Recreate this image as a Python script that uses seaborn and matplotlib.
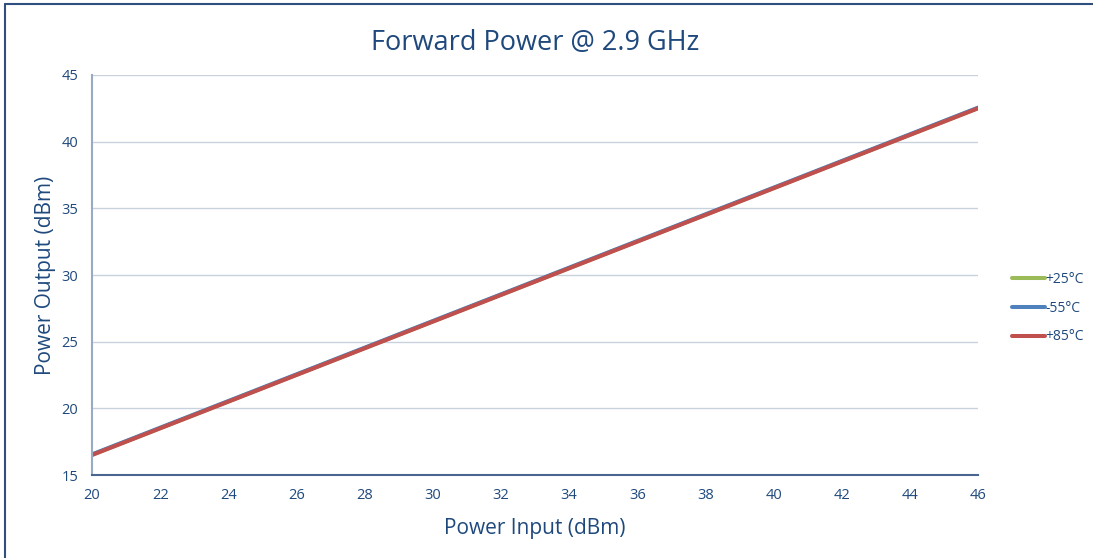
import pandas as pd
import seaborn as sns
import matplotlib.pyplot as plt
from matplotlib import lines

# ====================
# Data
# ====================

power_in = [20, 22, 24, 26, 28, 30, 32, 34, 36, 38, 40, 42, 44, 46]
out_p25 = [16.52, 18.52, 20.52, 22.52, 24.52, 26.52, 28.52, 30.52, 32.52, 34.52, 36.52, 38.52, 40.52, 42.52]
out_m55 = [16.55, 18.55, 20.55, 22.55, 24.55, 26.55, 28.55, 30.55, 32.55, 34.55, 36.55, 38.55, 40.55, 42.55]
out_p85 = [16.5, 18.5, 20.5, 22.5, 24.5, 26.5, 28.5, 30.5, 32.5, 34.5, 36.5, 38.5, 40.5, 42.5]
temps = ['+25°C', '-55°C', '+85°C']
colors = ['#9BBB59', '#4F81BD', '#C0504D']

df = pd.concat([
    pd.DataFrame({'pin': power_in, 'pout': vals, 'temp': t})
    for t, vals in zip(temps, [out_p25, out_m55, out_p85])
])

# ====================
# Plotting
# ====================

sns.set_style('white')
plt.rcParams['font.family'] = ['Open Sans', 'DejaVu Sans']
txt = '#1F497D'

fig = plt.figure(figsize=(10.93, 5.58), dpi=100)
ax = fig.add_axes([0.0842, 0.1487, 0.8106, 0.7169])

sns.lineplot(data=df, x='pin', y='pout', hue='temp', hue_order=temps,
             palette=colors, linewidth=2.9, ax=ax)

ax.set_xlim(20, 46)
ax.set_ylim(15, 45)
ax.set_xticks(range(20, 47, 2))
ax.set_yticks(range(15, 46, 5))
ax.grid(axis='y', color='#C8D2DE', linewidth=1)
ax.set_axisbelow(True)
for s in ['top', 'right']:
    ax.spines[s].set_visible(False)
ax.spines['left'].set_color('#9AAAC2')
ax.spines['left'].set_linewidth(1.5)
ax.spines['bottom'].set_color('#4A6690')
ax.spines['bottom'].set_linewidth(1.5)
ax.tick_params(axis='x', length=0, labelsize=10.5, colors=txt, pad=9)
ax.tick_params(axis='y', length=4, width=1, color='#C8D2DE', labelsize=10.5,
               labelcolor=txt, pad=6)

ax.set_xlabel('Power Input (dBm)', fontsize=15, color=txt, labelpad=11)
ax.set_ylabel('Power Output (dBm)', fontsize=15, color=txt, labelpad=4)
ax.set_title('Forward Power @ 2.9 GHz', fontsize=19.5, color=txt, pad=18)

leg = ax.legend(loc='center left', bbox_to_anchor=(1.038, 0.4175), frameon=False,
                fontsize=10, handlelength=2.4, handletextpad=0.0, labelspacing=1.0,
                borderpad=0, borderaxespad=0)
for t in leg.get_texts():
    t.set_color(txt)
for h in leg.get_lines():
    h.set_linewidth(2.9)

edge = '#2F4F7F'
fig.add_artist(lines.Line2D([5 / 1093, 5 / 1093], [0, 1 - 4 / 558], color=edge,
                            linewidth=1.5, transform=fig.transFigure))
fig.add_artist(lines.Line2D([5 / 1093, 1], [1 - 4 / 558, 1 - 4 / 558], color=edge,
                            linewidth=1.5, transform=fig.transFigure))

fig.savefig('out.png', dpi=100)
